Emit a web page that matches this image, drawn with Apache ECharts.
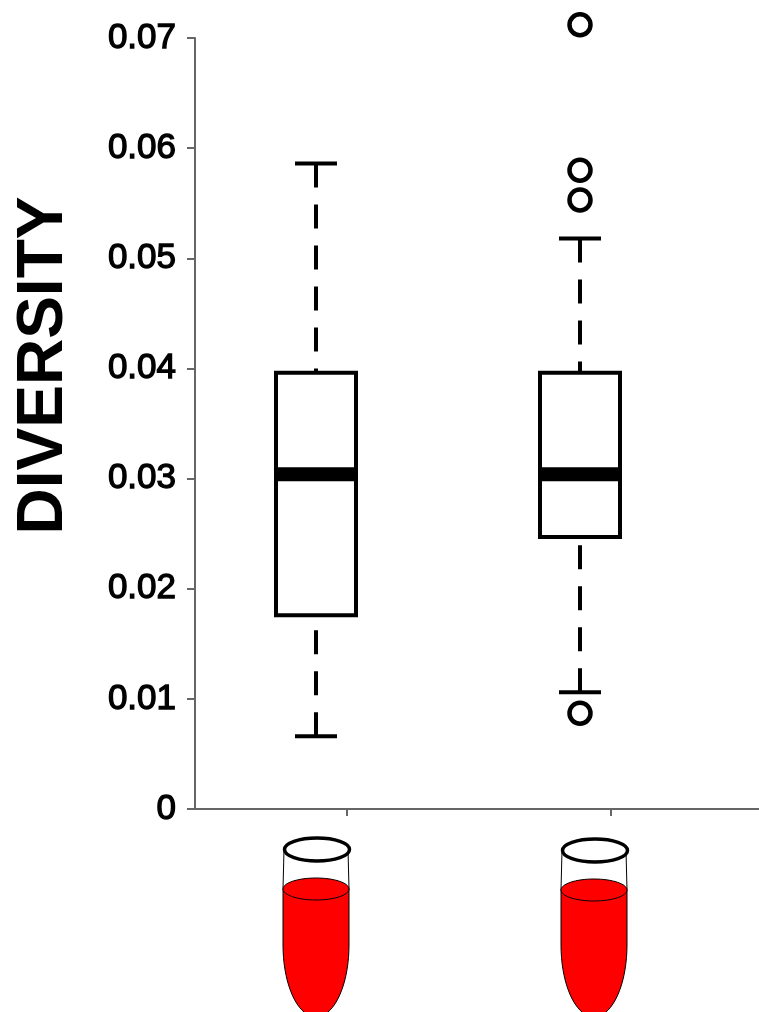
<!DOCTYPE html>
<html><head><meta charset="utf-8">
<script src="https://cdn.jsdelivr.net/npm/echarts@6/dist/echarts.min.js"></script>
<style>html,body{margin:0;padding:0;background:#fff}#c{width:759px;height:1012px}</style>
</head><body><div id="c"></div>
<script>
var boxPositions = [1, 2];
var lowWhisker = [0.0066, 0.0106];
var q1 = [0.0176, 0.0247];
var medians = [0.0304, 0.0304];
var q3 = [0.0396, 0.0396];
var highWhisker = [0.0586, 0.0518];
var outlierPositions = [2, 2, 2, 2];
var outlierValues = [0.0712, 0.058, 0.0553, 0.0087];
var tickPositions = [1.117, 2.117];
var yTicks = [0, 0.01, 0.02, 0.03, 0.04, 0.05, 0.06, 0.07];
var yTitle = 'DIVERSITY';

var boxRows = boxPositions.map(function (p, i) {
  return [p, lowWhisker[i], q1[i], medians[i], q3[i], highWhisker[i]];
});
var outlierRows = outlierPositions.map(function (p, i) { return [p, outlierValues[i]]; });

function renderBox(params, api) {
  var x = api.value(0);
  var px = api.coord([x, 0])[0];
  var y = function (d) { return api.coord([x, api.value(d)])[1]; };
  var hw = 40, cap = 21;
  var base = { stroke: '#000', lineWidth: 4, fill: null };
  var dash = { stroke: '#000', lineWidth: 4, fill: null, lineDash: [24, 17] };
  function line(x1, y1, x2, y2, st) {
    return { type: 'line', shape: { x1: x1, y1: y1, x2: x2, y2: y2 }, style: st };
  }
  return {
    type: 'group',
    children: [
      line(px, y(5), px, y(4), dash),
      line(px, y(1), px, y(2), dash),
      line(px - cap, y(5), px + cap, y(5), base),
      line(px - cap, y(1), px + cap, y(1), base),
      { type: 'rect', shape: { x: px - hw, y: y(4), width: hw * 2, height: y(2) - y(4) }, style: { stroke: '#000', lineWidth: 4, fill: '#fff' } },
      line(px - hw, y(3), px + hw, y(3), { stroke: '#000', lineWidth: 14 })
    ]
  };
}

function tube(cx, rimY, topY) {
  var L = cx - 33, R = cx + 33, bend = 945, ry = 72;
  var pts = [[L, topY]];
  for (var a = 180; a >= 0; a -= 5) {
    var t = a * Math.PI / 180;
    pts.push([cx + 33 * Math.cos(t), bend + ry * Math.sin(t)]);
  }
  pts.push([R, topY]);
  return [
    { type: 'line', shape: { x1: L + 1, y1: rimY, x2: L, y2: topY }, style: { stroke: '#000', lineWidth: 1 } },
    { type: 'line', shape: { x1: R - 1, y1: rimY, x2: R, y2: topY }, style: { stroke: '#000', lineWidth: 1 } },
    { type: 'polygon', shape: { points: pts }, style: { fill: '#ff0000', stroke: '#000', lineWidth: 1 } },
    { type: 'ellipse', shape: { cx: cx, cy: topY, rx: 33, ry: 11 }, style: { fill: '#ff0000', stroke: '#000', lineWidth: 1 } },
    { type: 'ellipse', shape: { cx: cx + 1, cy: rimY, rx: 32.5, ry: 11.5 }, style: { fill: '#fff', stroke: '#000', lineWidth: 3.5 } }
  ];
}

var chart = echarts.init(document.getElementById('c'), null, { renderer: 'canvas' });
chart.setOption({
  animation: false,
  backgroundColor: '#fff',
  grid: { left: 195, top: 38, width: 564, height: 771, containLabel: false },
  xAxis: {
    type: 'value', min: 0.5417, max: 2.678,
    splitLine: { show: false },
    axisLine: { show: true, onZero: false, lineStyle: { color: '#666', width: 2 } },
    axisLabel: { show: false },
    axisTick: { show: true, customValues: tickPositions, length: 7, lineStyle: { color: '#666', width: 2 } }
  },
  yAxis: {
    type: 'value', min: 0, max: 0.07, interval: 0.01,
    splitLine: { show: false },
    axisLine: { show: true, lineStyle: { color: '#666', width: 2 } },
    axisTick: { show: true, length: 8, lineStyle: { color: '#666', width: 2 } },
    axisLabel: {
      margin: 19, color: '#000', fontFamily: 'Liberation Sans', fontSize: 35, fontWeight: 'normal',
      textBorderColor: '#000', textBorderWidth: 1.3, showMinLabel: true, showMaxLabel: true,
      padding: [3, 0, 0, 0],
      formatter: function (v) { return v === 0 ? '0' : v.toFixed(2); }
    }
  },
  graphic: [
    { type: 'text', x: 76, y: 365.5, rotation: Math.PI / 2,
      style: { text: yTitle, font: 'bold 64px "Liberation Sans"', fill: '#000', align: 'center', verticalAlign: 'bottom' }, z: 5 },
    { type: 'group', children: tube(316, 849.5, 889).concat(tube(594, 850.5, 890)) }
  ],
  series: [
    { type: 'custom', name: 'box', renderItem: renderBox, encode: { x: 0, y: [1, 2, 3, 4, 5] }, data: boxRows, clip: false, z: 3 },
    { type: 'scatter', name: 'outliers', data: outlierRows, symbol: 'circle', symbolSize: 21,
      itemStyle: { color: 'transparent', borderColor: '#000', borderWidth: 4.5, opacity: 1 }, clip: false, z: 4 }
  ]
});
</script></body></html>
